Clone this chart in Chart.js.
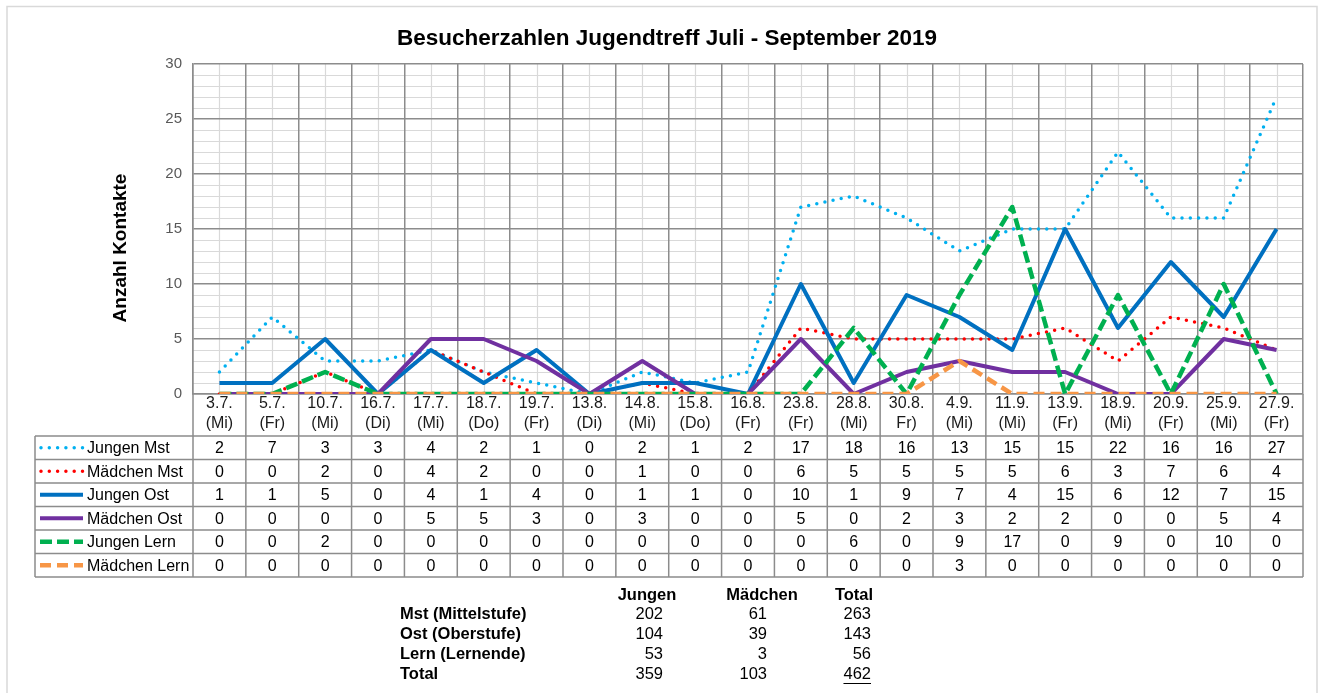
<!DOCTYPE html>
<html>
<head>
<meta charset="utf-8">
<title>Besucherzahlen Jugendtreff Juli - September 2019</title>
<script src="https://cdn.jsdelivr.net/npm/chart.js@4.4.1/dist/chart.umd.min.js"></script>
<style>
  html, body { margin: 0; padding: 0; background: #fff; }
  #wrap { width: 1321px; height: 693px; }
</style>
</head>
<body>
<div id="wrap"><canvas id="visitorChart" width="1321" height="693"></canvas></div>
<script>
// Categories
const dates = ['3.7.', '5.7.', '10.7.', '16.7.', '17.7.', '18.7.', '19.7.', '13.8.', '14.8.', '15.8.', '16.8.',
  '23.8.', '28.8.', '30.8.', '4.9.', '11.9.', '13.9.', '18.9.', '20.9.', '25.9.', '27.9.'];
const weekdays = ['(Mi)', '(Fr)', '(Mi)', '(Di)', '(Mi)', '(Do)', '(Fr)', '(Di)', '(Mi)', '(Do)', '(Fr)',
  '(Fr)', '(Mi)', 'Fr)', '(Mi)', '(Mi)', '(Fr)', '(Mi)', '(Fr)', '(Mi)', '(Fr)'];

// Series values
const jungenMst   = [2, 7, 3, 3, 4, 2, 1, 0, 2, 1, 2, 17, 18, 16, 13, 15, 15, 22, 16, 16, 27];
const maedchenMst = [0, 0, 2, 0, 4, 2, 0, 0, 1, 0, 0, 6, 5, 5, 5, 5, 6, 3, 7, 6, 4];
const jungenOst   = [1, 1, 5, 0, 4, 1, 4, 0, 1, 1, 0, 10, 1, 9, 7, 4, 15, 6, 12, 7, 15];
const maedchenOst = [0, 0, 0, 0, 5, 5, 3, 0, 3, 0, 0, 5, 0, 2, 3, 2, 2, 0, 0, 5, 4];
const jungenLern  = [0, 0, 2, 0, 0, 0, 0, 0, 0, 0, 0, 0, 6, 0, 9, 17, 0, 9, 0, 10, 0];
const maedchenLern = [0, 0, 0, 0, 0, 0, 0, 0, 0, 0, 0, 0, 0, 0, 3, 0, 0, 0, 0, 0, 0];
const seriesNames = ['Jungen Mst', 'Mädchen Mst', 'Jungen Ost', 'Mädchen Ost', 'Jungen Lern', 'Mädchen Lern'];
const seriesValues = [jungenMst, maedchenMst, jungenOst, maedchenOst, jungenLern, maedchenLern];

// Y axis
const yMin = 0;
const yMax = 30;
const yLabelStep = 5;

// Summary table below the chart
const summaryHeaders = ['Jungen', 'Mädchen', 'Total'];
const summaryRows = ['Mst (Mittelstufe)', 'Ost (Oberstufe)', 'Lern (Lernende)', 'Total'];
const summaryJungen = [202, 104, 53, 359];
const summaryMaedchen = [61, 39, 3, 103];
const summaryTotal = [263, 143, 56, 462];

const chartTitle = 'Besucherzahlen Jugendtreff Juli - September 2019';
const yTitle = 'Anzahl Kontakte';

// Styles
const FONT = "'Liberation Sans', Arial, sans-serif";
const gridMajor = '#8c8c8c';
const gridMinor = '#d9d9d9';
const seriesStyles = [
  { color: '#00B0F0', width: 3.5, dash: [0, 8.3], cap: 'round' },
  { color: '#FF0000', width: 3.5, dash: [0, 8.3], cap: 'round' },
  { color: '#0070C0', width: 4, dash: [], cap: 'butt' },
  { color: '#7030A0', width: 4, dash: [], cap: 'butt' },
  { color: '#00B050', width: 4.5, dash: [12, 5], cap: 'butt' },
  { color: '#F79646', width: 4.5, dash: [11, 6], cap: 'butt' }
];
const labelAreaHeight = 42;
const rowHeight = 23.5;
const tableLeft = 35;

Chart.defaults.font.family = FONT;

const tablePlugin = {
  id: 'dataTable',
  beforeDraw(chart) {
    // minor gridlines (category centres and every unit)
    const { ctx, chartArea: a, scales: { x, y } } = chart;
    ctx.save();
    ctx.strokeStyle = gridMinor;
    ctx.lineWidth = 1.2;
    ctx.beginPath();
    for (let i = 0; i < dates.length; i++) {
      const px = Math.round(x.getPixelForValue(i)) + 0.5;
      ctx.moveTo(px, a.top);
      ctx.lineTo(px, a.bottom);
    }
    for (let v = yMin; v <= yMax; v++) {
      if (v % yLabelStep === 0) continue;
      const py = Math.round(y.getPixelForValue(v)) + 0.5;
      ctx.moveTo(a.left, py);
      ctx.lineTo(a.right, py);
    }
    ctx.stroke();
    ctx.restore();
  },
  afterDraw(chart) {
    const { ctx, chartArea: a, scales: { x } } = chart;
    const colW = x.getPixelForValue(1) - x.getPixelForValue(0);
    const top = a.bottom + labelAreaHeight;
    const bottom = top + rowHeight * seriesNames.length;

    ctx.save();
    // table lines
    ctx.strokeStyle = gridMajor;
    ctx.lineWidth = 1.5;
    ctx.beginPath();
    for (let i = 0; i <= dates.length; i++) {
      const px = x.getPixelForValue(i) - colW / 2;
      ctx.moveTo(px, a.bottom);
      ctx.lineTo(px, bottom);
    }
    ctx.moveTo(tableLeft, top);
    ctx.lineTo(tableLeft, bottom);
    for (let r = 0; r <= seriesNames.length; r++) {
      const py = top + r * rowHeight;
      ctx.moveTo(tableLeft, py);
      ctx.lineTo(a.right, py);
    }
    ctx.stroke();

    // cells
    ctx.fillStyle = '#000';
    ctx.font = '16px ' + FONT;
    ctx.textBaseline = 'middle';
    seriesValues.forEach((vals, r) => {
      const cy = top + (r + 0.5) * rowHeight + 1;
      ctx.textAlign = 'center';
      vals.forEach((v, i) => ctx.fillText(String(v), x.getPixelForValue(i), cy));

      // legend key
      const st = seriesStyles[r];
      ctx.save();
      ctx.strokeStyle = st.color;
      ctx.lineWidth = st.width;
      ctx.lineCap = st.cap;
      ctx.setLineDash(st.dash);
      ctx.beginPath();
      ctx.moveTo(st.cap === 'round' ? 41 : 40, cy - 1);
      ctx.lineTo(83, cy - 1);
      ctx.stroke();
      ctx.restore();

      ctx.textAlign = 'left';
      ctx.fillText(seriesNames[r], 87, cy);
    });

    // chart title
    ctx.textBaseline = 'alphabetic';
    ctx.textAlign = 'center';
    ctx.font = 'bold 22.5px ' + FONT;
    ctx.fillText(chartTitle, 667, 45);

    // y axis title
    ctx.save();
    ctx.translate(121, 248);
    ctx.rotate(-Math.PI / 2);
    ctx.font = 'bold 19px ' + FONT;
    ctx.textBaseline = 'middle';
    ctx.fillText(yTitle, 0, 0);
    ctx.restore();

    // summary table
    ctx.font = 'bold 16.5px ' + FONT;
    const headerX = [647, 762, 854];
    summaryHeaders.forEach((h, i) => ctx.fillText(h, headerX[i], 600));
    const valueCols = [summaryJungen, summaryMaedchen, summaryTotal];
    const valueX = [663, 767, 871];
    summaryRows.forEach((label, r) => {
      const by = 619 + r * 20;
      ctx.font = 'bold 16.5px ' + FONT;
      ctx.textAlign = 'left';
      ctx.fillText(label, 400, by);
      ctx.font = '16.5px ' + FONT;
      ctx.textAlign = 'right';
      valueCols.forEach((col, c) => ctx.fillText(String(col[r]), valueX[c], by));
    });
    // underline grand total
    const last = summaryRows.length - 1;
    const tw = ctx.measureText(String(summaryTotal[last])).width;
    ctx.strokeStyle = '#000';
    ctx.lineWidth = 1;
    ctx.beginPath();
    ctx.moveTo(valueX[2] - tw, 619 + last * 20 + 4.5);
    ctx.lineTo(valueX[2], 619 + last * 20 + 4.5);
    ctx.stroke();

    // outer chart frame
    ctx.strokeStyle = '#d9d9d9';
    ctx.lineWidth = 1.5;
    ctx.beginPath();
    ctx.moveTo(7, 693);
    ctx.lineTo(7, 6.5);
    ctx.lineTo(1317, 6.5);
    ctx.lineTo(1317, 693);
    ctx.stroke();
    ctx.restore();
  }
};

const datasets = seriesNames.map((name, i) => ({
  label: name,
  data: seriesValues[i],
  borderColor: seriesStyles[i].color,
  backgroundColor: seriesStyles[i].color,
  borderWidth: seriesStyles[i].width,
  borderDash: seriesStyles[i].dash,
  borderCapStyle: seriesStyles[i].cap,
  borderJoinStyle: 'round',
  pointRadius: 0,
  tension: 0,
  fill: false,
  order: seriesNames.length - 1 - i
}));

const ctx = document.getElementById('visitorChart').getContext('2d');
new Chart(ctx, {
  type: 'line',
  data: { labels: dates.map((d, i) => [d, weekdays[i]]), datasets },
  options: {
    responsive: false,
    animation: false,
    layout: { padding: { left: 100, right: 18, top: 64, bottom: 257 } },
    plugins: {
      legend: { display: false },
      title: { display: false },
      tooltip: { enabled: false }
    },
    scales: {
      x: {
        type: 'category',
        offset: true,
        afterFit: (s) => { s.height = labelAreaHeight; },
        grid: { offset: true, color: gridMajor, lineWidth: 1.5, drawTicks: false },
        border: { color: gridMajor, width: 1.5 },
        ticks: { autoSkip: false, maxRotation: 0, padding: 0, color: '#1a1a1a', font: { size: 16, lineHeight: 1.25 } }
      },
      y: {
        min: yMin,
        max: yMax,
        afterFit: (s) => { s.width = 93; },
        grid: { color: gridMajor, lineWidth: 1.5, drawTicks: false },
        border: { color: gridMajor, width: 1.5 },
        ticks: { stepSize: yLabelStep, padding: 11, color: '#595959', font: { size: 15 } }
      }
    }
  },
  plugins: [tablePlugin]
});
</script>
</body>
</html>
